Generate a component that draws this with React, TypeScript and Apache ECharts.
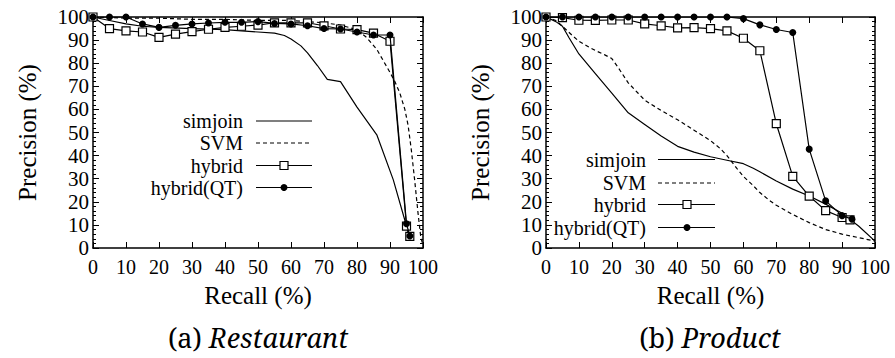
import React, { useEffect, useRef } from "react";
import * as echarts from "echarts";

// ---------- Data ----------
// (a) Restaurant
const restRecall = [0, 5, 10, 15, 20, 25, 30, 35, 40, 45, 50, 55, 60, 65, 70, 75, 80, 85, 90, 95, 96];
const restHybrid = [100, 95, 94, 93.5, 91.2, 92.6, 93.7, 94.7, 95.5, 96, 96.5, 97.5, 97.5, 97.5, 96.2, 94.8, 94.5, 93, 89.5, 9.5, 5];
const restHybridQT = [100, 100, 100, 97, 95.5, 96.4, 97, 97.4, 97.7, 97.7, 98, 97.2, 97, 96.2, 95, 94.8, 93.5, 92.2, 92.2, 10.5, 5.2];
const restSimjoinRecall = [0, 5, 10, 15, 20, 30, 40, 45, 50, 55, 58, 60, 63, 65, 68, 71, 75, 80, 86, 91, 94.5, 96];
const restSimjoin = [100, 98.5, 97, 96, 95.5, 95, 94.5, 94, 93.5, 93, 92, 90.5, 87.5, 84.5, 79, 73, 72, 61, 49, 29.5, 12, 4];
const restSvmRecall = [0, 10, 20, 30, 40, 50, 60, 70, 75, 80, 83, 86, 88, 90, 91.5, 93, 94.5, 95.5, 96.5, 97.5, 98.5, 99.3, 100];
const restSvm = [100, 99.5, 99.5, 99, 99, 98.5, 98.5, 97.5, 96.5, 94.5, 91, 86, 81, 76, 72, 67, 60, 53, 42, 29, 15, 5, 1];

// (b) Product
const prodRecall = [0, 5, 10, 15, 20, 25, 30, 35, 40, 45, 50, 55, 60, 65, 70, 75, 80, 85, 90, 92.4];
const prodHybrid = [100, 99.7, 98.6, 98.5, 98.7, 98.7, 97, 96.2, 95.3, 95.4, 95, 94, 90.8, 85.4, 53.8, 31, 22.5, 16.2, 13.2, 12.2];
const prodRecallQT = [0, 5, 10, 15, 20, 25, 30, 35, 40, 45, 50, 55, 60, 65, 70, 75, 80, 85, 90, 93];
const prodHybridQT = [100, 100, 100, 100, 100, 100, 100, 100, 100, 100, 100, 100, 99.3, 96.6, 94.6, 93.3, 42.8, 20.4, 14, 12.5];
const prodSimjoinRecall = [0, 3, 5, 7, 10, 15, 20, 25, 30, 35, 40, 45, 50, 55, 60, 63, 65, 70, 75, 80, 85, 90, 95, 100];
const prodSimjoin = [100, 98, 96, 91, 84, 75.5, 67, 58.5, 53.5, 48.5, 44, 41.5, 39.5, 38, 36.5, 34.5, 33, 29, 25.5, 22.5, 19, 15, 9.5, 3];
const prodSvmRecall = [0, 3, 5, 8, 10, 13, 15, 18, 20, 22, 25, 28, 30, 35, 40, 45, 50, 53, 55, 58, 60, 63, 65, 68, 70, 75, 80, 85, 90, 95, 100];
const prodSvm = [100, 98.5, 96, 92, 89.5, 87, 85.5, 83.5, 82, 78, 71.5, 67, 64, 59.5, 55.5, 51, 46.5, 43, 40, 34.5, 31, 27, 24, 20.5, 18.5, 14.5, 11, 8, 6, 4.5, 3];

const seriesNames = ["simjoin", "SVM", "hybrid", "hybrid(QT)"];
const panelTitles = [
  { tag: "(a) ", name: "Restaurant" },
  { tag: "(b) ", name: "Product" },
];
const xAxisName = "Recall (%)";
const yAxisName = "Precision (%)";

// ---------- Styling ----------
const BLACK = "#000";
const SERIF = "Liberation Serif";
const TITLE_FONT = "Noto Serif";
const grids = [
  { left: 93, top: 17, width: 330, height: 231, cx: 258 },
  { left: 546, top: 17, width: 329, height: 231, cx: 710 },
];
const legendLayouts = [
  { textRight: 243, x1: 256, x2: 312, mid: 284, rows: [121, 143, 165.5, 187.5] },
  { textRight: 646, x1: 658, x2: 715, mid: 687, rows: [159.5, 183, 204.5, 227.5] },
];

function pairs(xs: number[], ys: number[]) {
  return xs.map((x, i) => [x, ys[i]]);
}

function makeSeries(name: string, data: number[][], g: number, kind: string) {
  const base: any = {
    name,
    type: "line",
    xAxisIndex: g * 2,
    yAxisIndex: g * 2,
    data,
    lineStyle: { color: BLACK, width: 1.2 },
    itemStyle: { color: BLACK },
    emphasis: { disabled: true },
    z: 3,
  };
  if (kind === "simjoin") {
    base.symbol = "none";
  } else if (kind === "svm") {
    base.symbol = "none";
    base.lineStyle = { color: BLACK, width: 1.2, type: [4, 3] };
  } else if (kind === "hybrid") {
    base.symbol = "rect";
    base.symbolSize = 8;
    base.itemStyle = { color: "#fff", borderColor: BLACK, borderWidth: 1.2 };
    base.z = 4;
  } else {
    base.symbol = "circle";
    base.symbolSize = 7;
    base.itemStyle = { color: BLACK, borderColor: BLACK, borderWidth: 0 };
    base.z = 5;
  }
  return base;
}

function buildOption() {
  const xAxes: any[] = [];
  const yAxes: any[] = [];
  grids.forEach((_, g) => {
    const common = {
      gridIndex: g,
      type: "value",
      min: 0,
      max: 100,
      interval: 10,
      splitLine: { show: false },
      axisLine: { show: true, onZero: false, lineStyle: { color: BLACK, width: 1.5 } },
      axisTick: { show: true, inside: true, length: 6, lineStyle: { color: BLACK, width: 1 } },
    };
    xAxes.push({
      ...common,
      position: "bottom",
      axisLabel: { color: BLACK, fontFamily: SERIF, fontSize: 20, margin: 9 },
      name: xAxisName,
      nameLocation: "middle",
      nameGap: 35,
      nameTextStyle: { color: BLACK, fontFamily: SERIF, fontSize: 25 },
    });
    xAxes.push({ ...common, position: "top", axisLabel: { show: false } });
    const minor = { show: true, splitNumber: 5, length: 3, lineStyle: { color: BLACK, width: 1 } };
    yAxes.push({
      ...common,
      position: "left",
      minorTick: minor,
      axisLabel: { color: BLACK, fontFamily: SERIF, fontSize: 21, margin: 4 },
      name: yAxisName,
      nameLocation: "middle",
      nameRotate: 90,
      nameGap: 53,
      nameTextStyle: { color: BLACK, fontFamily: SERIF, fontSize: 25 },
    });
    yAxes.push({ ...common, position: "right", minorTick: minor, axisLabel: { show: false } });
  });

  const series = [
    makeSeries(seriesNames[0], pairs(restSimjoinRecall, restSimjoin), 0, "simjoin"),
    makeSeries(seriesNames[1], pairs(restSvmRecall, restSvm), 0, "svm"),
    makeSeries(seriesNames[2], pairs(restRecall, restHybrid), 0, "hybrid"),
    makeSeries(seriesNames[3], pairs(restRecall, restHybridQT), 0, "qt"),
    makeSeries(seriesNames[0], pairs(prodSimjoinRecall, prodSimjoin), 1, "simjoin"),
    makeSeries(seriesNames[1], pairs(prodSvmRecall, prodSvm), 1, "svm"),
    makeSeries(seriesNames[2], pairs(prodRecall, prodHybrid), 1, "hybrid"),
    makeSeries(seriesNames[3], pairs(prodRecallQT, prodHybridQT), 1, "qt"),
  ];

  const graphic: any[] = [];
  legendLayouts.forEach((L) => {
    seriesNames.forEach((name, i) => {
      const y = L.rows[i];
      graphic.push({
        type: "text",
        x: L.textRight,
        y,
        z: 10,
        style: {
          text: name,
          fontFamily: SERIF,
          fontSize: 20,
          fill: BLACK,
          align: "right",
          verticalAlign: "middle",
        },
      });
      graphic.push({
        type: "line",
        z: 10,
        shape: { x1: L.x1, y1: y, x2: L.x2, y2: y },
        style: { stroke: BLACK, lineWidth: 1.2, lineDash: i === 1 ? [4, 3] : null },
      });
      if (i === 2) {
        graphic.push({
          type: "rect",
          z: 11,
          shape: { x: L.mid - 4, y: y - 4, width: 8, height: 8 },
          style: { fill: "#fff", stroke: BLACK, lineWidth: 1.2 },
        });
      } else if (i === 3) {
        graphic.push({
          type: "circle",
          z: 11,
          shape: { cx: L.mid, cy: y, r: 3.5 },
          style: { fill: BLACK },
        });
      }
    });
  });

  const title = panelTitles.map((t, g) => ({
    text: `{n|${t.tag}}{i|${t.name}}`,
    left: grids[g].cx,
    top: 324,
    padding: 0,
    textAlign: "center",
    textStyle: {
      fontWeight: "normal",
      fontFamily: TITLE_FONT,
      rich: {
        n: { fontFamily: TITLE_FONT, fontSize: 27, fontWeight: "normal", color: BLACK },
        i: { fontFamily: TITLE_FONT, fontStyle: "italic", fontWeight: "normal", fontSize: 27, color: BLACK },
      },
    },
  }));

  return {
    animation: false,
    backgroundColor: "#fff",
    title,
    grid: grids.map((g) => ({ left: g.left, top: g.top, width: g.width, height: g.height })),
    xAxis: xAxes,
    yAxis: yAxes,
    series,
    graphic,
  };
}

export default function App() {
  const ref = useRef<HTMLDivElement>(null);
  useEffect(() => {
    if (!ref.current) return;
    const chart = echarts.init(ref.current, undefined, { renderer: "svg" });
    chart.setOption(buildOption() as any);
    return () => chart.dispose();
  }, []);
  return (
    <div
      ref={ref}
      style={{ position: "fixed", left: 0, top: 0, width: 895, height: 358, background: "#fff" }}
    />
  );
}
